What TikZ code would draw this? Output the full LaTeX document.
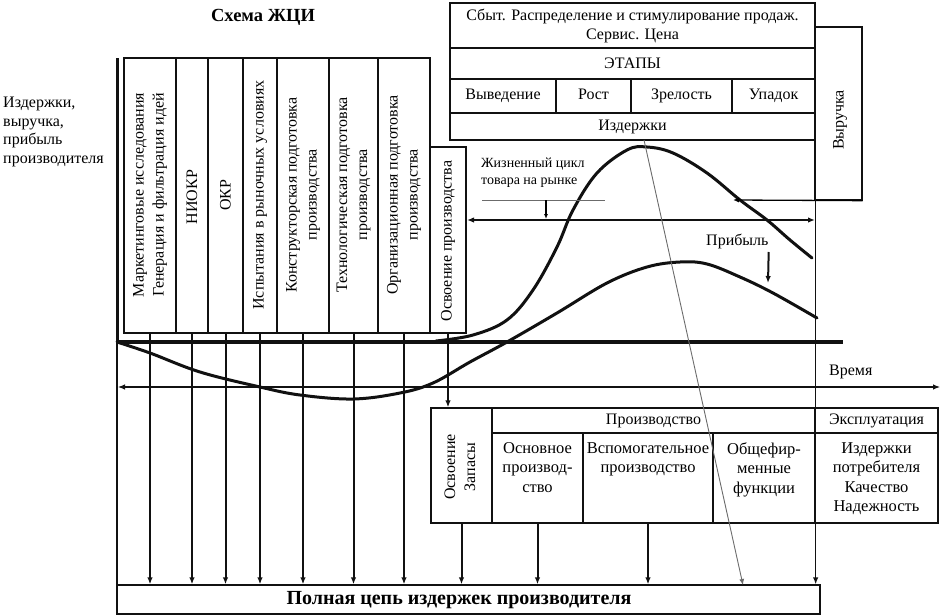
\documentclass[tikz,border=0pt]{standalone}
\usepackage{fontspec}
\setmainfont{Liberation Serif}
\usetikzlibrary{
  arrows.meta,
  positioning,
  calc
}
\definecolor{zhInk}{HTML}{111111}
\definecolor{zhMute}{HTML}{6B6B6B}
\tikzset{
  zhbox/.style={draw=zhInk, line width=1.3pt, inner sep=0pt},
  stagebox/.style={zhbox, minimum height=275pt},
  cell/.style={zhbox, align=center, font=\fontsize{16}{19}\selectfont},
  stagecell/.style={cell, minimum height=34pt, text height=11pt, text depth=4pt},
  vtext/.style={rotate=90, align=center, inner sep=0pt, font=\fontsize{16}{20}\selectfont},
  ctext/.style={anchor=north, align=center, inner sep=0pt, font=\fontsize{16.5}{19.5}\selectfont},
  tag/.style={inner sep=0pt, font=\fontsize{16}{19}\selectfont},
  drop/.style={-{Latex[length=7pt,width=5.5pt]}, line width=2pt, zhInk},
  dbl/.style={{Latex[length=7pt,width=5.5pt]}-{Latex[length=7pt,width=5.5pt]}, line width=1.8pt, zhInk},
  thinline/.style={line width=0.9pt, zhMute},
  curve/.style={line width=3pt, zhInk, line cap=round},
  axisline/.style={line width=4.5pt, zhInk}
}

\begin{document}
\begin{tikzpicture}[x=1pt, y=-1pt]
  \useasboundingbox (0,0) rectangle (943,616);
  % title and axis label
  \node[font=\fontsize{18.5}{20}\selectfont\bfseries] (title) at (263,17) {Схема ЖЦИ};
  \node[anchor=north west, align=left, inner sep=0pt, font=\fontsize{16}{18.5}\selectfont] (ylab) at (3,97)
    {Издержки,\\выручка,\\прибыль\\производителя};

  % pre-production stages
  \node[stagebox, minimum width=52pt] (mi) at (150,195.5) {};
  \node[stagebox, minimum width=32pt] (niokr) at (192,195.5) {};
  \node[stagebox, minimum width=35pt] (okr) at (225.5,195.5) {};
  \node[stagebox, minimum width=34pt] (isp) at (260,195.5) {};
  \node[stagebox, minimum width=52pt] (kpp) at (303,195.5) {};
  \node[stagebox, minimum width=49pt] (tpp) at (353.5,195.5) {};
  \node[stagebox, minimum width=52pt] (opp) at (404,195.5) {};
  \node[zhbox, minimum width=36pt, minimum height=186pt] (osv) at (448,240) {};
  \node[vtext] (mit) at (150,195) {Маркетинговые исследования\\Генерация и фильтрация идей};
  \node[vtext] (niokrt) at (192,197) {НИОКР};
  \node[vtext] (okrt) at (225.5,195) {ОКР};
  \node[vtext] (ispt) at (260,195) {Испытания в рыночных условиях};
  \node[vtext] (kppt) at (303,195) {Конструкторская подготовка\\производства};
  \node[vtext] (tppt) at (353.5,195) {Технологическая подготовка\\производства};
  \node[vtext] (oppt) at (404,195) {Организационная подготовка\\производства};
  \node[vtext] (osvt) at (448,241) {Освоение производства};

  % market table
  \node[cell, minimum width=365pt, minimum height=45pt] (sbyt) at (632.5,25.5)
    {Сбыт. Распределение и стимулирование продаж.\\Сервис. Цена};
  \node[cell, minimum width=365pt, minimum height=31pt] (etapy) at (632.5,63.5) {ЭТАПЫ};
  \node[stagecell, minimum width=106pt] (st1) at (503,96) {Выведение};
  \node[stagecell, minimum width=75pt] (st2) at (593.5,96) {Рост};
  \node[stagecell, minimum width=101pt] (st3) at (681.5,96) {Зрелость};
  \node[stagecell, minimum width=83pt] (st4) at (773.5,96) {Упадок};
  \node[cell, minimum width=365pt, minimum height=27pt] (izd) at (632.5,126.5) {Издержки};
  \node[zhbox, minimum width=47pt, minimum height=173pt] (vyr) at (838.5,113.5) {};
  \node[vtext] (vyrt) at (840,120) {Выручка};

  % production table
  \node[zhbox, minimum width=61pt, minimum height=115pt] (osvz) at (461.5,465.5) {};
  \node[cell, minimum width=323pt, minimum height=25pt] (prod) at (653.5,420.5) {Производство};
  \node[zhbox, minimum width=91pt, minimum height=90pt] (osn) at (537.5,478) {};
  \node[zhbox, minimum width=130pt, minimum height=90pt] (vsp) at (648,478) {};
  \node[zhbox, minimum width=102pt, minimum height=90pt] (obsh) at (764,478) {};
  \node[cell, minimum width=123pt, minimum height=25pt] (expl) at (876.5,420.5) {Эксплуатация};
  \node[zhbox, minimum width=123pt, minimum height=90pt] (potr) at (876.5,478) {};
  \node[vtext] (osvzt) at (460,467) {Освоение\\Запасы};
  \node[ctext] (osnt) at (osn.north) [yshift=-10pt] {Основное\\производ-\\ство};
  \node[ctext] (vspt) at (vsp.north) [yshift=-10pt] {Вспомогательное\\производство};
  \node[ctext] (obsht) at (obsh.north) [yshift=-10pt] {Общефир-\\менные\\функции};
  \node[ctext] (potrt) at (potr.north) [yshift=-10pt] {Издержки\\потребителя\\Качество\\Надежность};

  \node[zhbox, minimum width=703pt, minimum height=29pt] (full) at (468.5,599.5) {};
  \node[inner sep=0pt, font=\fontsize{20}{22}\selectfont\bfseries] (fullt) at (459,600)
    {Полная цепь издержек производителя};

  % axes
  \coordinate (O) at (117,342);
  \draw[line width=3pt, zhInk] (117,58) -- (O);
  \draw[line width=2.2pt, zhInk] (O) -- (117,584);
  \draw[axisline] (O) -- (843,342);
  \coordinate (t0) at (118,387);
  \coordinate (t1) at (940,387);
  \draw[dbl, line width=1.1pt] (t0) -- (t1);
  \node[tag, anchor=south west] (vrem) at (829,379) {Время};

  % curves
  \draw[curve] plot[smooth, tension=0.6] coordinates {(436,341) (473,335) (507,320) (533,290) (557,247)
    (573,210) (597,173) (627,150) (647,147) (673,153) (707,173) (740,200) (767,220) (790,240) (812,258)};
  \draw[curve] plot[smooth, tension=0.6] coordinates {(117,342) (150,353) (200,372) (260,387) (300,395)
    (353,399) (400,393) (433,383) (470,362) (507,342) (557,313) (607,283) (647,267) (680,262) (707,264)
    (740,277) (773,293) (817,318)};

  % life cycle marks
  \node[anchor=north west, align=left, inner sep=0pt, font=\fontsize{14}{17}\selectfont] (lc) at (481,158)
    {Жизненный цикл\\товара на рынке};
  \coordinate (lcl) at (467,220);
  \coordinate (lcr) at (815,220);
  \draw[dbl] (lcl) -- (lcr);
  \draw[thinline] (482,200) coordinate (u0) -- (605,200) coordinate (u1);
  \draw[-{Latex[length=5pt,width=4pt]}, line width=1.1pt] (546,200) -- (546,219);
  \coordinate (vyrend) at (733,200);
  \draw[-{Latex[length=6pt,width=5pt]}, line width=1.3pt] (vyr.south east) -- (vyrend);
  \node[tag, anchor=south west] (prib) at (706,249) {Прибыль};
  \coordinate (pribend) at (768,283);
  \draw[drop] (prib.south east |- 0,252) -- (pribend);

  % cost flows
  \foreach \n in {mi,niokr,okr,isp,kpp,tpp,opp}{\draw[drop] (\n.south) -- (\n.south |- full.north);}
  \draw[drop] (osv.south) -- (osv.south |- osvz.north);
  \foreach \n in {osvz,osn,vsp}{\draw[drop] (\n.south) -- (\n.south |- full.north);}
  \draw[drop, line width=1.3pt] (izd.south east) -- (izd.south east |- full.north);
  \coordinate (s0) at (644,140);
  \coordinate (s1) at (743,585);
  \draw[thinline, -{Latex[length=6pt,width=5pt]}] (s0) -- (s1);
\end{tikzpicture}
\end{document}
